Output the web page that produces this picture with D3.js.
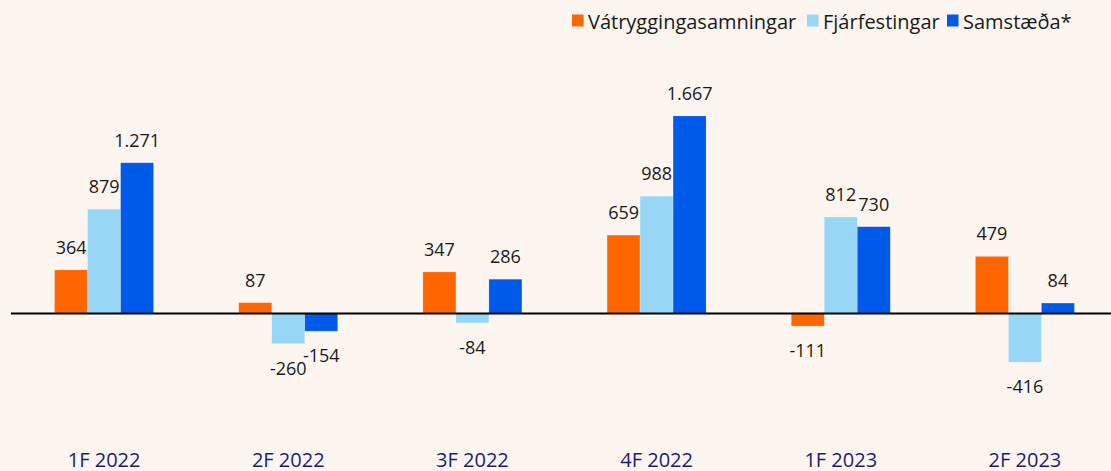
<!DOCTYPE html>
<html>
<head>
<meta charset="utf-8">
<script src="https://cdn.jsdelivr.net/npm/d3@7"></script>
<style>
  body { margin: 0; background: #fdf5f0; }
  svg { display: block; font-family: "Open Sans", sans-serif; }
</style>
</head>
<body>
<div id="chart"></div>
<script>
var categories = ["1F 2022", "2F 2022", "3F 2022", "4F 2022", "1F 2023", "2F 2023"];
var seriesNames = ["Vátryggingasamningar", "Fjárfestingar", "Samstæða*"];
var vatryggingar = [364, 87, 347, 659, -111, 479];
var fjarfestingar = [879, -260, -84, 988, 812, -416];
var samstaeda = [1271, -154, 286, 1667, 730, 84];
var colors = ["#ff6600", "#97d6f5", "#005ae9"];

var width = 1111, height = 471;
var series = [vatryggingar, fjarfestingar, samstaeda];

var svg = d3.select("#chart").append("svg")
    .attr("width", width)
    .attr("height", height);

svg.append("rect").attr("width", width).attr("height", height).attr("fill", "#fdf5f0");

var x = d3.scaleBand()
    .domain(categories)
    .range([12, 1117]);

var barW = 33;
var xs = d3.scaleBand()
    .domain([0, 1, 2])
    .range([-barW * 1.5, barW * 1.5]);

var y = d3.scaleLinear()
    .domain([-1337, 2648])
    .range([471, 0]);

// icelandic style: dot as thousands separator, plain hyphen for minus
var fmt = d3.formatLocale({decimal: ",", thousands: ".", grouping: [3], currency: ["", ""], minus: "-"}).format(",d");

var groups = svg.append("g")
    .selectAll("g")
    .data(categories)
    .enter()
        .append("g")
        .attr("transform", function(d){ return "translate(" + (x(d) + x.bandwidth() / 2) + ",0)"; });

groups.selectAll("rect")
    .data(function(d, i){ return series.map(function(s, k){ return {k: k, v: s[i]}; }); })
    .enter()
        .append("rect")
        .attr("x", function(d){ return xs(d.k); })
        .attr("width", barW)
        .attr("y", function(d){ return Math.min(y(d.v), y(0)); })
        .attr("height", function(d){ return Math.abs(y(d.v) - y(0)); })
        .attr("fill", function(d){ return colors[d.k]; })
        .attr("stroke", "rgba(255,255,255,0.35)")
        .attr("stroke-width", 0.6);

groups.selectAll("text")
    .data(function(d, i){ return series.map(function(s, k){ return {k: k, v: s[i]}; }); })
    .enter()
        .append("text")
        .attr("x", function(d){ return xs(d.k) + barW / 2; })
        .attr("y", function(d){ return d.v >= 0 ? y(d.v) - 16 : y(d.v) + 31; })
        .attr("text-anchor", "middle")
        .attr("font-size", "18px")
        .attr("fill", "#1a1a1a")
        .text(function(d){ return fmt(d.v); });

// zero line
svg.append("line")
    .attr("x1", 11).attr("x2", width)
    .attr("y1", y(0) + 0.5).attr("y2", y(0) + 0.5)
    .attr("stroke", "#000")
    .attr("stroke-width", 2);

// category labels
var xAxis = svg.append("g")
    .attr("transform", "translate(0,467)")
    .call(d3.axisBottom(x).tickSize(0).tickPadding(0));
xAxis.select(".domain").remove();
xAxis.selectAll("text")
    .attr("dy", 0)
    .attr("font-size", "20px")
    .attr("font-family", "Open Sans, sans-serif")
    .attr("fill", "#1b1f6b");

// legend
var legendX = [572, 807, 947];
var legend = svg.append("g")
    .selectAll("g")
    .data(seriesNames)
    .enter()
        .append("g")
        .attr("transform", function(d, i){ return "translate(" + legendX[i] + ",0)"; });
legend.append("rect")
    .attr("x", 0).attr("y", 14.5)
    .attr("width", 11.5).attr("height", 12)
    .attr("fill", function(d, i){ return colors[i]; });
legend.append("text")
    .attr("x", 16).attr("y", 28.5)
    .attr("font-size", "20px")
    .attr("fill", "#1a1a1a")
    .text(function(d){ return d; });
</script>
</body>
</html>
